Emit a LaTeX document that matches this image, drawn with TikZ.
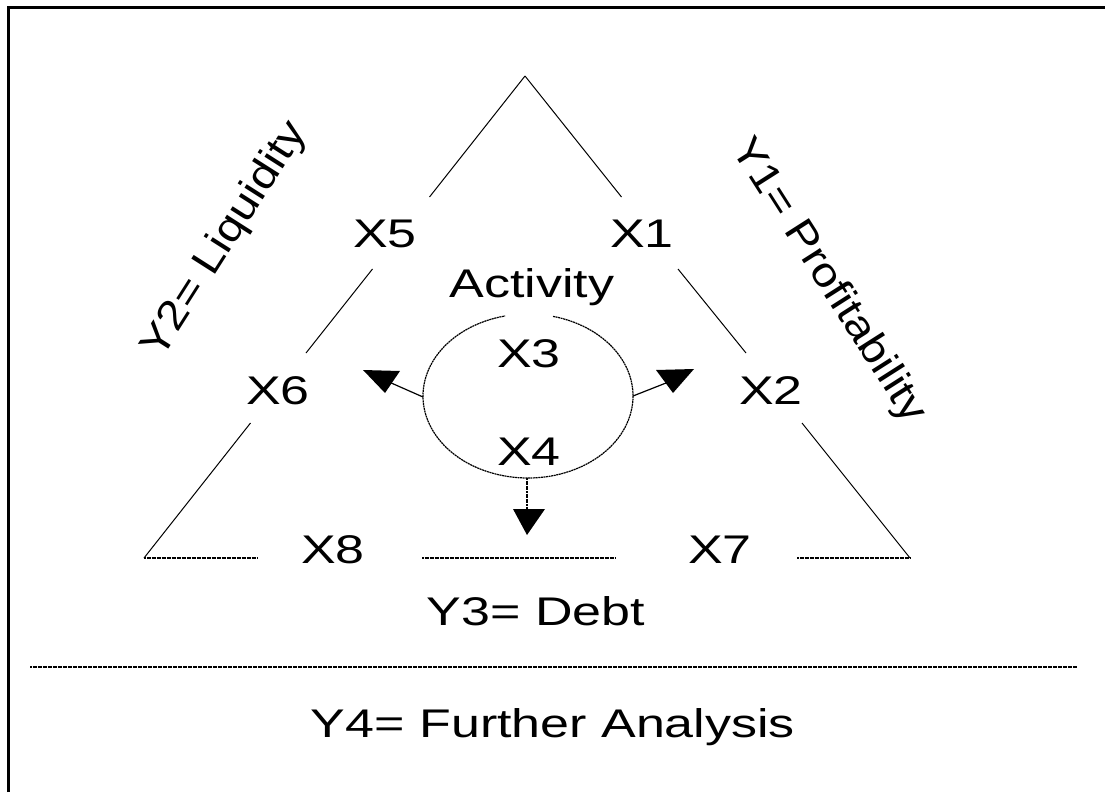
\documentclass[tikz,border=0pt]{standalone}
\usepackage{graphicx}
\usepackage{fontspec}
\setmainfont{Liberation Sans}
\newcommand\strtxt[1]{\scalebox{1.3}[1]{#1}}
\newcommand\strrot[2]{\rotatebox{#1}{\scalebox{1.15}[1]{#2}}}
\begin{document}
\begin{tikzpicture}[x=1pt,y=-1pt,
  lbl/.style={font=\fontsize{40}{48}\selectfont, inner sep=0pt, anchor=base},
  rlbl/.style={font=\fontsize{41}{48}\selectfont, inner sep=0pt, anchor=center},
  edge/.style={line width=1pt},
  hedge/.style={line width=1.2pt, dash pattern=on 2pt off 0.5pt},
  ring/.style={line width=1.2pt, dash pattern=on 2pt off 0.6pt},
  conn/.style={line width=1.2pt},
  head/.style={fill=black, draw=none}]
\useasboundingbox (0,0) rectangle (1105,792);
% frame (only left and top visible)
\draw[line width=3pt] (8.5,792) -- (8.5,7.5) -- (1105,7.5);
% triangle corners
\coordinate (A) at (525,76);
\coordinate (BL) at (144,558);
\coordinate (BR) at (910,558);
% left edge
\draw[edge] (A) -- (429.5,197);
\draw[edge] (372.5,269) -- (306,353);
\draw[edge] (250.5,423) -- (BL);
% right edge
\draw[edge] (A) -- (621.5,197);
\draw[edge] (678,269) -- (746,353);
\draw[edge] (802,423) -- (BR);
% bottom edge
\draw[hedge] (BL) -- (257,558);
\draw[hedge] (422,558) -- (616,558);
\draw[hedge] (797,558) -- (BR);
% separator
\draw[hedge] (30,667) -- (1077,667);
% labels
\node[lbl] (x5) at (385,247) {\strtxt{X5}};
\node[lbl] (x1) at (642,247) {\strtxt{X1}};
\node[lbl] (act) at (532,297) {\strtxt{Activity}};
\node[lbl] (x3) at (529,367) {\strtxt{X3}};
\node[lbl] (x6) at (278,404) {\strtxt{X6}};
\node[lbl] (x2) at (771,404) {\strtxt{X2}};
\node[lbl] (x4) at (529,465) {\strtxt{X4}};
\node[lbl] (x8) at (333,563) {\strtxt{X8}};
\node[lbl] (x7) at (720,563) {\strtxt{X7}};
\node[lbl] (y3) at (536,625) {\strtxt{Y3= Debt}};
\node[lbl] (y4) at (553,737) {\strtxt{Y4= Further Analysis}};
\node[rlbl] (y2) at (225,240) {\strrot{57.5}{Y2= Liquidity}};
\node[rlbl] (y1) at (828,281) {\strrot{-57.5}{Y1= Profitability}};
% activity ring
\coordinate (rc) at (528,396);
\draw[ring] (rc) ++(-76.2:105 and 82) arc[start angle=-76.2, end angle=257.4, x radius=105, y radius=82];
\coordinate (oL) at (423,397);
\coordinate (oR) at (633,396);
\coordinate (oB) at (527,478);
\coordinate (eL) at (389,382);
\coordinate (eR) at (666,383);
\coordinate (eB) at (527,512);
\draw[conn] (oL) -- (eL);
\draw[conn] (oR) -- (eR);
\draw[conn, dash pattern=on 2pt off 0.6pt] (oB) -- (eB);
\fill[head] (363,370) -- (400,371) -- (385,393) -- cycle;
\fill[head] (656,370) -- (694,369) -- (673,393) -- cycle;
\fill[head] (513,509) -- (545,509) -- (527,535) -- cycle;
\end{tikzpicture}
\end{document}
